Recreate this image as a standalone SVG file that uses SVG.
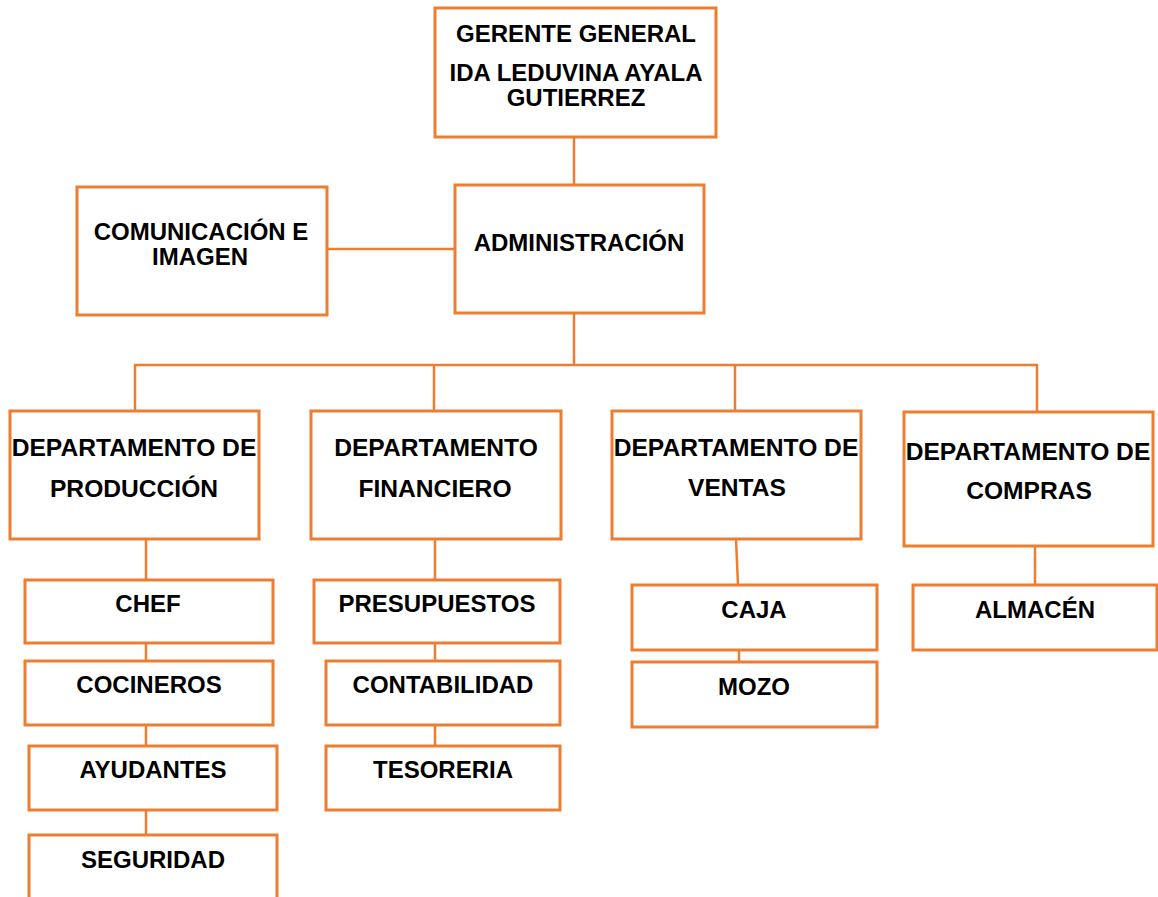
<svg xmlns="http://www.w3.org/2000/svg" width="1158" height="897" viewBox="0 0 1158 897">
<style>
.box{fill:#ffffff;stroke:#ED7D31;stroke-width:3}
.ln{stroke:#ED7D31;stroke-width:2.5;fill:none}
text{font-family:"Liberation Sans",Arial,sans-serif;font-weight:bold;font-size:24px;fill:#000;text-anchor:middle}
.dep text{font-size:24.6px}
</style>
<rect width="1158" height="897" fill="#ffffff"/>
<g id="connectors">
<line class="ln" x1="574" y1="137" x2="574" y2="185"/>
<line class="ln" x1="327" y1="249" x2="455" y2="249"/>
<line class="ln" x1="574" y1="313" x2="574" y2="365"/>
<line class="ln" x1="134" y1="365" x2="1038" y2="365"/>
<line class="ln" x1="135" y1="365" x2="135" y2="411"/>
<line class="ln" x1="434" y1="365" x2="434" y2="411"/>
<line class="ln" x1="735" y1="365" x2="735" y2="411"/>
<line class="ln" x1="1037" y1="365" x2="1037" y2="412"/>
<line class="ln" x1="146" y1="539" x2="146" y2="580"/>
<line class="ln" x1="146" y1="643" x2="146" y2="661"/>
<line class="ln" x1="146" y1="725" x2="146" y2="746"/>
<line class="ln" x1="146" y1="810" x2="146" y2="835"/>
<line class="ln" x1="435" y1="539" x2="435" y2="580"/>
<line class="ln" x1="435" y1="643" x2="435" y2="661"/>
<line class="ln" x1="435" y1="725" x2="435" y2="746"/>
<line class="ln" x1="736" y1="539" x2="738" y2="585"/>
<line class="ln" x1="739" y1="650" x2="739" y2="662"/>
<line class="ln" x1="1035" y1="546" x2="1035" y2="585"/>
</g>
<g id="gerente">
<rect class="box" x="435" y="8" width="281" height="129"/>
<text x="576" y="42">GERENTE GENERAL</text>
<text x="576" y="81">IDA LEDUVINA AYALA</text>
<text x="576" y="106">GUTIERREZ</text>
</g>
<g id="administracion">
<rect class="box" x="455" y="185" width="249" height="128"/>
<text x="579" y="251">ADMINISTRACIÓN</text>
</g>
<g id="comunicacion">
<rect class="box" x="77" y="187" width="250" height="128"/>
<text x="201" y="240">COMUNICACIÓN E</text>
<text x="200" y="265">IMAGEN</text>
</g>
<g id="dep-produccion" class="dep">
<rect class="box" x="10" y="411" width="249" height="128"/>
<text x="134" y="456">DEPARTAMENTO DE</text>
<text x="134" y="497">PRODUCCIÓN</text>
</g>
<g id="dep-financiero" class="dep">
<rect class="box" x="311" y="411" width="250" height="128"/>
<text x="436" y="456">DEPARTAMENTO</text>
<text x="435" y="497">FINANCIERO</text>
</g>
<g id="dep-ventas" class="dep">
<rect class="box" x="612" y="411" width="249" height="128"/>
<text x="736" y="456">DEPARTAMENTO DE</text>
<text x="737" y="496">VENTAS</text>
</g>
<g id="dep-compras" class="dep">
<rect class="box" x="904" y="412" width="249" height="134"/>
<text x="1028" y="460">DEPARTAMENTO DE</text>
<text x="1029" y="499">COMPRAS</text>
</g>
<g id="chef">
<rect class="box" x="25" y="580" width="248" height="63"/>
<text x="148" y="612">CHEF</text>
</g>
<g id="cocineros">
<rect class="box" x="25" y="661" width="248" height="64"/>
<text x="149" y="693">COCINEROS</text>
</g>
<g id="ayudantes">
<rect class="box" x="29" y="746" width="248" height="64"/>
<text x="153" y="778">AYUDANTES</text>
</g>
<g id="seguridad">
<rect class="box" x="29" y="835" width="248" height="80"/>
<text x="153" y="868">SEGURIDAD</text>
</g>
<g id="presupuestos">
<rect class="box" x="314" y="580" width="246" height="63"/>
<text x="437" y="612">PRESUPUESTOS</text>
</g>
<g id="contabilidad">
<rect class="box" x="326" y="661" width="234" height="64"/>
<text x="443" y="693">CONTABILIDAD</text>
</g>
<g id="tesoreria">
<rect class="box" x="326" y="746" width="234" height="64"/>
<text x="443" y="778">TESORERIA</text>
</g>
<g id="caja">
<rect class="box" x="632" y="585" width="245" height="65"/>
<text x="754" y="618">CAJA</text>
</g>
<g id="mozo">
<rect class="box" x="632" y="662" width="245" height="65"/>
<text x="754" y="695">MOZO</text>
</g>
<g id="almacen">
<rect class="box" x="913" y="585" width="244" height="65"/>
<text x="1035" y="618">ALMACÉN</text>
</g>
</svg>
